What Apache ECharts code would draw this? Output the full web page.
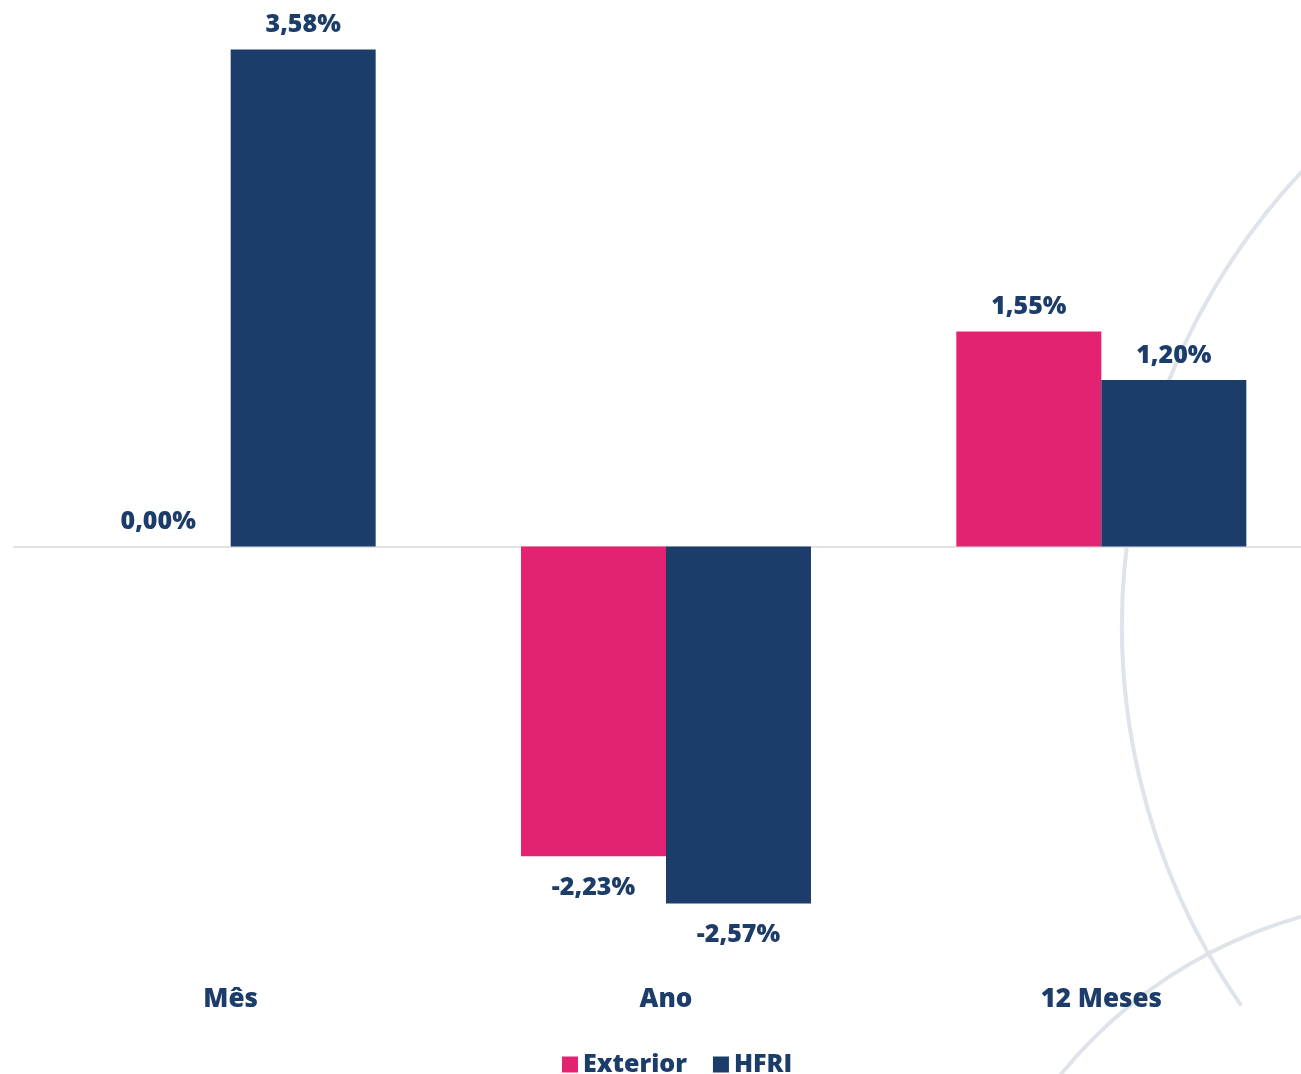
<!DOCTYPE html>
<html>
<head>
<meta charset="utf-8">
<script src="https://cdn.jsdelivr.net/npm/echarts@6/dist/echarts.min.js"></script>
<style>
  html, body { margin: 0; padding: 0; background: #ffffff; }
  #chart { width: 1301px; height: 1074px; }
</style>
</head>
<body>
<div id="chart"></div>
<script>
const categories = ['Mês', 'Ano', '12 Meses'];
const exteriorValues = [0.00, -2.23, 1.55];
const hfriValues = [3.58, -2.57, 1.20];
const seriesNames = ['Exterior', 'HFRI'];

const NAVY = '#1c3d6a';
const PINK = '#e32371';
const FONT = '"Open Sans", Lato, sans-serif';

function fmt(v) {
  return v.toFixed(2).replace('.', ',') + '%';
}
function toData(arr) {
  return arr.map(v => ({
    value: v,
    label: { position: v < 0 ? 'bottom' : 'top', distance: v < 0 ? 19 : 12 }
  }));
}

const labelStyle = {
  show: true,
  color: NAVY,
  fontFamily: FONT,
  fontWeight: 800,
  fontSize: 25,
  formatter: p => fmt(p.value)
};

const chart = echarts.init(document.getElementById('chart'), null, { renderer: 'canvas' });
chart.setOption({
  backgroundColor: '#ffffff',
  animation: false,
  graphic: [
    {
      type: 'arc', silent: true, z: -10,
      shape: { cx: 1786, cy: 626, r: 664, startAngle: 2.533, endAngle: 4.3, clockwise: true },
      style: { stroke: '#dfe3ea', lineWidth: 4, fill: null }
    },
    {
      type: 'circle', silent: true, z: -10,
      shape: { cx: 1430, cy: 1375, r: 476 },
      style: { stroke: '#dfe3ea', lineWidth: 4, fill: null }
    }
  ],
  grid: { left: 13, width: 1306, top: 19, height: 958, containLabel: false, outerBoundsMode: 'none' },
  legend: {
    data: seriesNames,
    top: 1047,
    left: 557,
    itemWidth: 16,
    itemHeight: 16,
    itemGap: 26,
    icon: 'rect',
    textStyle: { color: NAVY, fontFamily: FONT, fontWeight: 800, fontSize: 25 }
  },
  xAxis: {
    type: 'category',
    data: categories,
    position: 'bottom',
    axisLine: { show: false, onZero: false },
    axisTick: { show: false },
    axisLabel: { color: NAVY, fontFamily: FONT, fontWeight: 800, fontSize: 26, margin: 10 }
  },
  yAxis: {
    type: 'value',
    min: -3.1,
    max: 3.8,
    show: false,
    splitLine: { show: false }
  },
  series: [
    {
      name: seriesNames[0],
      type: 'bar',
      data: toData(exteriorValues),
      barWidth: 145,
      barGap: '0%',
      itemStyle: { color: PINK },
      label: labelStyle,
      markLine: {
        silent: true,
        symbol: ['none', 'none'],
        label: { show: false },
        lineStyle: { color: '#e3e3e3', width: 2, type: 'solid' },
        data: [{ yAxis: 0 }],
        z: 1
      }
    },
    {
      name: seriesNames[1],
      type: 'bar',
      data: toData(hfriValues),
      barWidth: 145,
      barGap: '0%',
      itemStyle: { color: NAVY },
      label: labelStyle
    }
  ]
});
</script>
</body>
</html>
